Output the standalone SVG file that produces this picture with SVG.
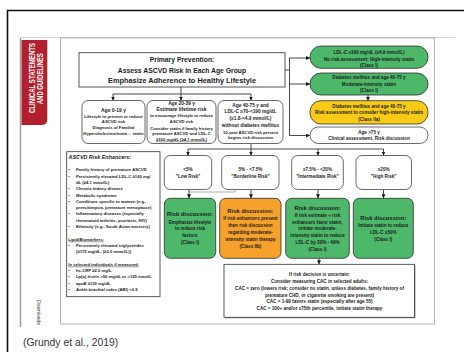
<svg xmlns="http://www.w3.org/2000/svg" width="464" height="352" viewBox="0 0 464 352">
<defs>
<marker id="ah" markerWidth="4" markerHeight="4" refX="4" refY="2" orient="auto" markerUnits="userSpaceOnUse"><path d="M0,0 L4,2 L0,4 z" fill="#1a1a1a"/></marker>
<style>
text{font-family:"Liberation Sans",Arial,sans-serif;fill:#1b1b1b;}
.c{text-anchor:middle;}
.b{font-weight:bold;}
.s{font-size:4.2px;font-weight:bold;}
.m{font-size:4.6px;font-weight:bold;}
.rd{font-size:5.8px;font-weight:bold;}
.box{fill:#fff;stroke:#444;stroke-width:0.8;}
.grn{fill:#4DB86A;stroke:#2e2e2e;stroke-width:0.8;}
.org{fill:#F6A12C;stroke:#2e2e2e;stroke-width:0.8;}
.yel{fill:#F8CB16;stroke:#2e2e2e;stroke-width:0.8;}
.ln{fill:none;stroke:#1a1a1a;stroke-width:0.8;}
.ar{fill:none;stroke:#1a1a1a;stroke-width:0.8;marker-end:url(#ah);}
.enh{font-size:4.2px;font-weight:bold;}
</style>
</defs>
<rect width="464" height="352" fill="#fff"/>
<!-- slide frame -->
<path d="M7.5,352 V10.5 H464" fill="none" stroke="#111" stroke-width="1.6"/>
<line x1="20" y1="37.5" x2="455" y2="37.5" stroke="#d4d4d4" stroke-width="1"/>
<line x1="20.5" y1="38" x2="20.5" y2="327" stroke="#9a9a9a" stroke-width="1.4"/>
<path d="M21.5,40 H47.3 V119 Q47.3,125 41.3,125 H21.5 Z" fill="#B3202D"/>
<text transform="translate(34.8,78) rotate(-90)" class="c b" font-size="8.4" textLength="70" lengthAdjust="spacingAndGlyphs" style="fill:#fff">CLINICAL STATEMENTS</text>
<text transform="translate(42.6,78.7) rotate(-90)" class="c b" font-size="8.4" textLength="51" lengthAdjust="spacingAndGlyphs" style="fill:#fff">AND GUIDELINES</text>
<text transform="translate(36.5,300) rotate(90)" font-size="5" style="fill:#444">Downloade</text>
<rect x="60.5" y="38" width="374" height="286" fill="none" stroke="#b5b5b5" stroke-width="1"/>
<text x="23" y="346" font-size="10.4" style="fill:#333">(Grundy et al., 2019)</text>

<!-- connectors -->
<g id="connectors">
<path class="ln" d="M181,87 V94 M113,94 H251 M285,70 H289.5 M289.5,58 V135.5 M251,143.5 V149 M188,149 H383.5"/>
<path class="ar" d="M113,94 V100.5"/>
<path class="ar" d="M181,94 V100.5"/>
<path class="ar" d="M251,94 V100.5"/>
<path class="ar" d="M289.5,58 H310"/>
<path class="ar" d="M289.5,84 H310"/>
<path class="ar" d="M289.5,135.5 H310"/>
<path class="ar" d="M368,95 V100.7"/>
<path class="ar" d="M188,149 V155.5"/>
<path class="ar" d="M251,149 V155.5"/>
<path class="ar" d="M318,149 V155.5"/>
<path class="ar" d="M383.5,149 V155.5"/>
<path class="ar" d="M189,189.5 V198.3"/>
<path d="M189,190 V192 H235 V190" fill="none" stroke="#8a8a8a" stroke-width="0.7"/>
<path class="ar" d="M251,189.5 V198.3"/>
<path class="ar" d="M318,189.5 V198.3"/>
<path class="ar" d="M383.5,189.5 V198.3"/>
<path class="ar" d="M319,258.3 V264.3"/>
</g>

<!-- title -->
<g id="title">
<rect x="79" y="52.7" width="206" height="34.3" fill="#fff" stroke="#444" stroke-width="0.9"/>
<text x="182" y="62.4" class="c b" font-size="6.8">Primary Prevention:</text>
<text x="182" y="72.6" class="c b" font-size="6.8">Assess ASCVD Risk in Each Age Group</text>
<text x="182" y="83" class="c b" font-size="6.8" textLength="148" lengthAdjust="spacingAndGlyphs">Emphasize Adherence to Healthy Lifestyle</text>
</g>

<!-- right pills -->
<g id="ldl190">
<rect x="310" y="46" width="118" height="22.3" rx="11" class="grn"/>
<text x="369" y="53.8" class="c m">LDL-C ≥190 mg/dL (≥4.9 mmol/L)</text>
<text x="369" y="60.5" class="c m">No risk assessment; High-intensity statin</text>
<text x="369" y="67.1" class="c m">(Class I)</text>
</g>
<g id="diabetes1">
<rect x="310" y="73" width="118" height="22" rx="11" class="grn"/>
<text x="369" y="78.8" class="c m">Diabetes mellitus and age 40-75 y</text>
<text x="369" y="85.5" class="c m">Moderate-intensity statin</text>
<text x="369" y="92.2" class="c m">(Class I)</text>
</g>
<g id="diabetes2">
<rect x="310" y="100.7" width="118" height="23.3" rx="11" class="yel"/>
<text x="369" y="107.5" class="c m">Diabetes mellitus and age 40-75 y</text>
<text x="369" y="113.8" class="c m">Risk assessment to consider high-intensity statin</text>
<text x="369" y="120.5" class="c m">(Class IIa)</text>
</g>
<g id="age75">
<rect x="310" y="127" width="118" height="16.5" rx="8.2" class="box"/>
<text x="369" y="133.6" class="c m">Age &gt;75 y</text>
<text x="369" y="140.3" class="c m" font-size="4.9">Clinical assessment, Risk discussion</text>
</g>

<!-- age boxes -->
<g id="age0">
<rect x="82" y="100.5" width="63" height="43" rx="6" class="box"/>
<text x="113.5" y="111.8" class="c b" font-size="5">Age 0-19 y</text>
<text x="113.5" y="117.6" class="c s" font-size="3.9">Lifestyle to prevent or reduce</text>
<text x="113.5" y="123.3" class="c s">ASCVD risk</text>
<text x="113.5" y="129" class="c s">Diagnosis of Familial</text>
<text x="113.5" y="134.8" class="c s" font-size="3.9">Hypercholesterolemia→ statin</text>
</g>
<g id="age20">
<rect x="147" y="100.5" width="69" height="43" rx="6" class="box"/>
<text x="181.5" y="105" class="c b" font-size="4.8">Age 20-39 y</text>
<text x="181.5" y="111.2" class="c b" font-size="5">Estimate lifetime risk</text>
<text x="181.5" y="117.4" class="c s" font-size="3.9">to encourage lifestyle to reduce</text>
<text x="181.5" y="123.1" class="c s" font-size="3.9">ASCVD risk</text>
<text x="181.5" y="129.5" class="c s" font-size="3.9">Consider statin if family history</text>
<text x="181.5" y="134.8" class="c s" font-size="3.9">premature ASCVD and LDL-C</text>
<text x="181.5" y="140.7" class="c s" font-size="3.9" text-decoration="underline">≥160 mg/dL (≥4.1 mmol/L)</text>
</g>
<g id="age40">
<rect x="218" y="100.5" width="65" height="43" rx="6" class="box"/>
<text x="250.5" y="107" class="c b" font-size="4.8">Age 40-75 y and</text>
<text x="250.5" y="113.4" class="c b" font-size="4.8">LDL-C ≥70-&lt;190 mg/dL</text>
<text x="250.5" y="120" class="c b" font-size="4.8">(≥1.8-&lt;4.9 mmol/L)</text>
<text x="250.5" y="126.7" class="c b" font-size="4.8">without diabetes mellitus</text>
<text x="250.5" y="133.6" class="c s" font-size="3.9">10-year ASCVD risk percent</text>
<text x="250.5" y="139.4" class="c s" font-size="3.9">begins risk discussion</text>
</g>

<!-- enhancers -->
<g id="enhancers">
<rect x="66.7" y="151.7" width="93.3" height="145" fill="#fff" stroke="#333" stroke-width="0.8"/>
<text x="68.5" y="158.6" font-size="5.4" font-weight="bold" font-style="italic">ASCVD Risk Enhancers:</text>
<g class="enh">
<text x="68.3" y="171.4">•</text><text x="76" y="171.4">Family history of premature ASCVD</text>
<text x="68.3" y="177.7">•</text><text x="76" y="177.7">Persistently elevated LDL-C ≥160 mg/</text>
<text x="76" y="184.1">dL (≥4.1 mmol/L)</text>
<text x="68.3" y="190.4">•</text><text x="76" y="190.4">Chronic kidney disease</text>
<text x="68.3" y="196.6">•</text><text x="76" y="196.6">Metabolic syndrome</text>
<text x="68.3" y="202.8">•</text><text x="76" y="202.8">Conditions specific to women (e.g.,</text>
<text x="76" y="209.1">preeclampsia, premature menopause)</text>
<text x="68.3" y="215.4">•</text><text x="76" y="215.4">Inflammatory diseases (especially</text>
<text x="76" y="221.7">rheumatoid arthritis, psoriasis, HIV)</text>
<text x="68.3" y="228.1">•</text><text x="76" y="228.1">Ethnicity (e.g., South Asian ancestry)</text>
<text x="68.3" y="240.7" text-decoration="underline">Lipid/Biomarkers:</text>
<text x="68.3" y="247.1">•</text><text x="76" y="247.1">Persistently elevated triglycerides</text>
<text x="76" y="253.4">(≥175 mg/dL, (≥2.0 mmol/L))</text>
<text x="68.3" y="265.7" text-decoration="underline">In selected individuals if measured:</text>
<text x="68.3" y="272.1">•</text><text x="76" y="272.1">hs-CRP ≥2.0 mg/L</text>
<text x="68.3" y="278.4">•</text><text x="76" y="278.4">Lp(a) levels &gt;50 mg/dL or &gt;125 nmol/L</text>
<text x="68.3" y="284.7">•</text><text x="76" y="284.7">apoB ≥130 mg/dL</text>
<text x="68.3" y="291.1">•</text><text x="76" y="291.1">Ankle-brachial index (ABI) &lt;0.9</text>
</g>
</g>

<!-- risk categories -->
<g id="low">
<rect x="164.3" y="155.5" width="47.4" height="34" rx="6" class="box"/>
<text x="188" y="170.8" class="c m">&lt;5%</text>
<text x="188" y="177.5" class="c m">"Low Risk"</text>
</g>
<g id="borderline">
<rect x="221.7" y="155.5" width="57.3" height="34" rx="6" class="box"/>
<text x="250.5" y="170.8" class="c m">5% - &lt;7.5%</text>
<text x="250.5" y="177.5" class="c m">"Borderline Risk"</text>
</g>
<g id="intermediate">
<rect x="291.7" y="155.5" width="51.6" height="34" rx="6" class="box"/>
<text x="317.5" y="170.8" class="c m">≥7.5% - &lt;20%</text>
<text x="317.5" y="177.5" class="c m">"Intermediate Risk"</text>
</g>
<g id="high">
<rect x="356" y="155.5" width="55.5" height="34" rx="6" class="box"/>
<text x="383.7" y="170.8" class="c m">≥20%</text>
<text x="383.7" y="177.5" class="c m">"High Risk"</text>
</g>

<!-- risk discussions -->
<g id="rd-low">
<rect x="164.3" y="198.3" width="51.4" height="60" rx="6" class="grn"/>
<text x="190" y="216.3" class="c rd">Risk discussion:</text>
<text x="190" y="223.5" class="c m">Emphasize lifestyle</text>
<text x="190" y="230.2" class="c m">to reduce risk</text>
<text x="190" y="237.2" class="c m">factors</text>
<text x="190" y="244.2" class="c m">(Class I)</text>
</g>
<g id="rd-borderline">
<rect x="219.7" y="198.3" width="61.3" height="60" rx="6" class="org"/>
<text x="250.4" y="213" class="c rd">Risk discussion:</text>
<text x="250.4" y="220.2" class="c m" font-size="4.4">If risk enhancers present</text>
<text x="250.4" y="226.8" class="c m" font-size="4.4">then risk discussion</text>
<text x="250.4" y="233.8" class="c m" font-size="4.4">regarding moderate-</text>
<text x="250.4" y="240.5" class="c m" font-size="4.4">intensity statin therapy</text>
<text x="250.4" y="247.5" class="c m" font-size="4.4">(Class IIb)</text>
</g>
<g id="rd-intermediate">
<rect x="285.7" y="198.3" width="63.6" height="60" rx="6" class="grn"/>
<text x="317.5" y="209.8" class="c rd">Risk discussion:</text>
<text x="317.5" y="216.6" class="c m" font-size="4.4">If risk estimate + risk</text>
<text x="317.5" y="223.5" class="c m" font-size="4.4">enhancers favor statin,</text>
<text x="317.5" y="230.2" class="c m" font-size="4.4">initiate moderate-</text>
<text x="317.5" y="237.2" class="c m" font-size="4.4">intensity statin to reduce</text>
<text x="317.5" y="243.8" class="c m" font-size="4.4">LDL-C by 30% - 49%</text>
<text x="317.5" y="250.8" class="c m" font-size="4.4">(Class I)</text>
</g>
<g id="rd-high">
<rect x="353.3" y="198.3" width="60" height="60" rx="6" class="grn"/>
<text x="383.3" y="219.7" class="c rd">Risk discussion:</text>
<text x="383.3" y="226.8" class="c m" font-size="4.4">Initiate statin to reduce</text>
<text x="383.3" y="233.5" class="c m" font-size="4.4">LDL-C ≥50%</text>
<text x="383.3" y="240.5" class="c m" font-size="4.4">(Class I)</text>
</g>

<!-- CAC -->
<g id="cac">
<rect x="225" y="265.3" width="190.5" height="53" fill="#9a9a9a"/>
<rect x="224" y="264.3" width="190.5" height="53" fill="#fff" stroke="#333" stroke-width="0.8"/>
<text x="319.5" y="275.8" class="c m" font-size="4.4">If risk decision is uncertain:</text>
<text x="319.5" y="282.8" class="c m" font-size="4.4">Consider measuring CAC in selected adults:</text>
<text x="319.5" y="289.5" class="c m" font-size="4.4">CAC = zero (lowers risk; consider no statin, unless diabetes, family history of</text>
<text x="319.5" y="296.5" class="c m" font-size="4.4">premature CHD, or cigarette smoking are present)</text>
<text x="319.5" y="303.2" class="c m" font-size="4.4">CAC = 1-99 favors statin (especially after age 55)</text>
<text x="319.5" y="310.2" class="c m" font-size="4.4">CAC = 100+ and/or ≥75th percentile, initiate statin therapy</text>
</g>
</svg>
